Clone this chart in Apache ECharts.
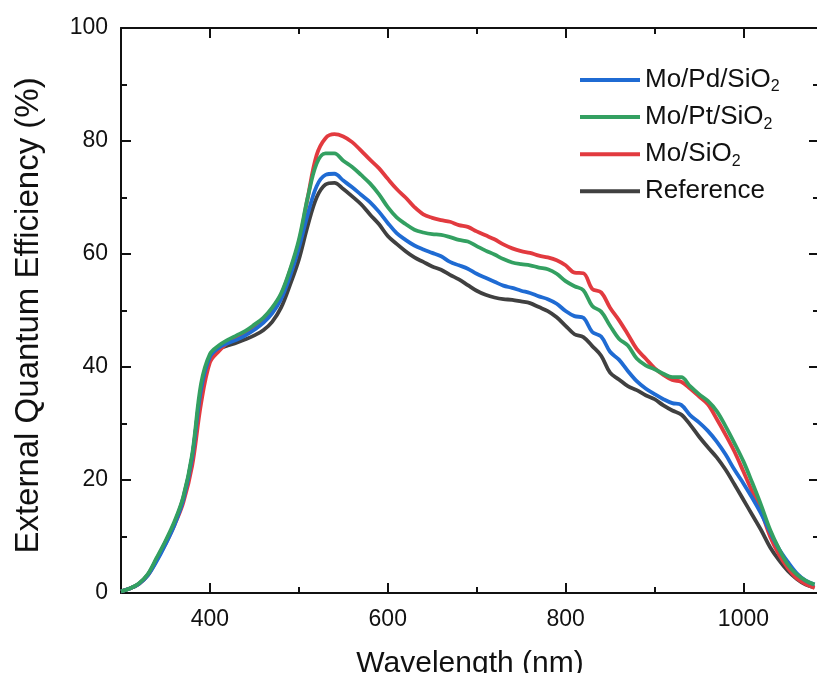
<!DOCTYPE html>
<html>
<head>
<meta charset="utf-8">
<script src="https://cdn.jsdelivr.net/npm/echarts@6/dist/echarts.min.js"></script>
<style>html,body{margin:0;padding:0;background:#fff}#c{width:817px;height:673px}</style>
</head>
<body>
<div id="c"></div>
<script>
var wavelengths = [300,310,320,330,340,350,360,370,380,390,400,410,420,430,440,450,460,470,480,490,500,510,520,530,540,550,560,570,580,590,600,610,620,630,640,650,660,670,680,690,700,710,720,730,740,750,760,770,780,790,800,810,820,830,840,850,860,870,880,890,900,910,920,930,940,950,960,970,980,990,1000,1010,1020,1030,1040,1050,1060,1070,1080];

var moPdSiO2 = [0.3,0.8,1.6,3.1,5.6,8.6,12.0,16.5,24.0,36.0,41.8,43.4,44.2,44.8,45.6,46.6,47.8,49.5,52.0,56.0,61.0,67.0,72.0,74.0,74.2,73.0,71.8,70.5,69.2,67.5,65.5,63.7,62.5,61.5,60.8,60.2,59.6,58.6,58.0,57.4,56.5,55.8,55.1,54.4,54.0,53.5,53.1,52.5,52.0,51.2,49.9,49.0,48.7,46.2,45.4,42.7,41.3,39.3,37.5,36.2,35.2,34.3,33.6,33.3,31.5,30.2,28.7,26.8,24.5,21.8,19.4,16.8,14.0,10.8,7.8,5.5,3.5,2.2,1.5];

var moPtSiO2 = [0.3,0.8,1.7,3.3,6.2,9.2,12.6,17.0,24.5,37.0,42.3,43.8,44.8,45.6,46.4,47.5,48.7,50.5,53.0,57.2,62.5,70.0,76.0,77.8,77.8,76.5,75.4,74.0,72.5,70.6,68.3,66.5,65.3,64.3,63.8,63.5,63.4,63.0,62.5,62.2,61.4,60.6,59.9,59.1,58.5,58.2,58.0,57.6,57.3,56.5,55.2,54.3,53.6,50.8,49.8,47.3,45.0,43.8,41.5,40.3,39.6,38.8,38.2,38.2,36.6,35.2,34.0,32.2,29.5,26.5,23.3,19.5,15.5,11.2,7.8,5.0,3.3,2.2,1.5];

var moSiO2 = [0.3,0.8,1.6,3.1,5.8,8.7,12.0,16.0,22.5,33.5,40.8,42.8,44.3,45.2,46.1,47.3,48.5,50.3,52.8,57.0,62.0,70.0,77.5,80.5,81.2,80.8,79.8,78.3,76.7,75.2,73.3,71.5,70.0,68.3,67.0,66.4,66.0,65.7,65.1,64.8,64.0,63.3,62.6,61.7,61.0,60.5,60.2,59.7,59.4,58.9,58.0,56.7,56.6,53.8,53.2,50.5,48.3,45.8,43.2,41.5,39.8,38.6,37.7,37.4,36.2,34.8,33.4,30.8,28.0,25.0,21.5,17.9,14.4,10.0,6.8,4.4,2.6,1.6,0.9];

var reference = [0.3,0.8,1.6,3.2,6.0,9.0,12.3,16.8,24.0,36.0,41.8,43.2,43.8,44.3,44.9,45.6,46.5,48.0,50.5,54.5,59.0,65.0,70.0,72.3,72.6,71.5,70.2,68.8,67.0,65.3,63.2,61.8,60.5,59.4,58.6,57.8,57.2,56.3,55.5,54.5,53.5,52.8,52.3,52.0,51.9,51.6,51.3,50.6,49.9,48.8,47.3,45.8,45.3,43.7,42.0,39.0,37.8,36.6,35.9,35.0,34.3,33.2,32.3,31.6,29.8,27.7,25.8,24.0,21.8,19.2,16.5,13.8,11.1,8.1,5.8,3.9,2.5,1.5,1.0];

var seriesNames = ['Mo/Pd/SiO2','Mo/Pt/SiO2','Mo/SiO2','Reference'];
var xMajorTicks = [400,600,800,1000];
var xMinorTicks = [500,700,900];

function pairs(vals){ return wavelengths.map(function(w,i){ return [w, vals[i]]; }); }

var FONT = '"Liberation Sans", Arial, Helvetica, sans-serif';
var BLACK = '#111';

var chart = echarts.init(document.getElementById('c'), null, {renderer:'canvas'});

function xAx(pos, ticks, len, showLine, showLabel, name){
  return {
    type:'value', position:pos, min:300, max:1085, gridIndex:0,
    axisLine:{show:showLine, onZero:false, lineStyle:{color:BLACK, width:2}},
    axisTick:{show:true, inside:true, length:len, customValues:ticks, lineStyle:{color:BLACK, width:2}},
    axisLabel:{show:showLabel, customValues:ticks, color:BLACK, fontSize:23, fontFamily:FONT, margin:15,
      formatter:function(v){ return String(v); }},
    splitLine:{show:false},
    name: name || '', nameLocation:'middle', nameGap:56,
    nameTextStyle:{color:BLACK, fontSize:30, fontFamily:FONT}
  };
}
function yAx(pos, showLabel, name){
  return {
    type:'value', position:pos, min:0, max:100, interval:20,
    axisLine:{show:true, onZero:false, lineStyle:{color:BLACK, width:2}},
    axisTick:{show:true, inside:true, length:10, lineStyle:{color:BLACK, width:2}},
    minorTick:{show:true, splitNumber:2, length:6, lineStyle:{color:BLACK, width:2}},
    axisLabel:{show:showLabel, color:BLACK, fontSize:23, fontFamily:FONT, margin:13},
    splitLine:{show:false},
    name: name || '', nameLocation:'middle', nameGap:76,
    nameTextStyle:{color:BLACK, fontSize:33, fontFamily:FONT, padding:[0,10,0,0]}
  };
}

function legendFmt(name){
  if (name.slice(-1) === '2') return '{n|' + name.slice(0,-1) + '}{s|2}';
  return '{n|' + name + '}{s| }';
}

var colors = {'Mo/Pd/SiO2':'#1f6bd3','Mo/Pt/SiO2':'#33a061','Mo/SiO2':'#e23a3f','Reference':'#404040'};
var dataMap = {'Mo/Pd/SiO2':moPdSiO2,'Mo/Pt/SiO2':moPtSiO2,'Mo/SiO2':moSiO2,'Reference':reference};
var drawOrder = ['Reference','Mo/SiO2','Mo/Pd/SiO2','Mo/Pt/SiO2'];

chart.setOption({
  animation:false,
  backgroundColor:'#fff',
  grid:{left:121, top:28, right:-2, bottom:80, containLabel:false, outerBoundsMode:'none'},
  xAxis:[
    xAx('bottom', xMajorTicks, 10, true, true, 'Wavelength (nm)'),
    xAx('top', xMajorTicks, 10, true, false),
    xAx('bottom', xMinorTicks, 6, false, false),
    xAx('top', xMinorTicks, 6, false, false)
  ],
  yAxis:[ yAx('left', true, 'External Quantum Efficiency (%)'), yAx('right', false) ],
  legend:{
    orient:'vertical', left:580, top:67, itemGap:9.1, padding:0,
    itemWidth:60, itemHeight:4, icon:'rect',
    data: seriesNames,
    formatter: legendFmt,
    textStyle:{
      color:BLACK, fontFamily:FONT,
      rich:{
        n:{fontSize:26, fontFamily:FONT, color:BLACK, lineHeight:30},
        s:{fontSize:16, fontFamily:FONT, color:BLACK, lineHeight:9, verticalAlign:'bottom'}
      }
    }
  },
  series: drawOrder.map(function(n){
    return {
      name:n, type:'line', xAxisIndex:0, yAxisIndex:0,
      data: pairs(dataMap[n]), symbol:'none', smooth:0.35,
      lineStyle:{color:colors[n], width:3.8}, itemStyle:{color:colors[n]},
      clip:true
    };
  })
});
</script>
</body>
</html>
